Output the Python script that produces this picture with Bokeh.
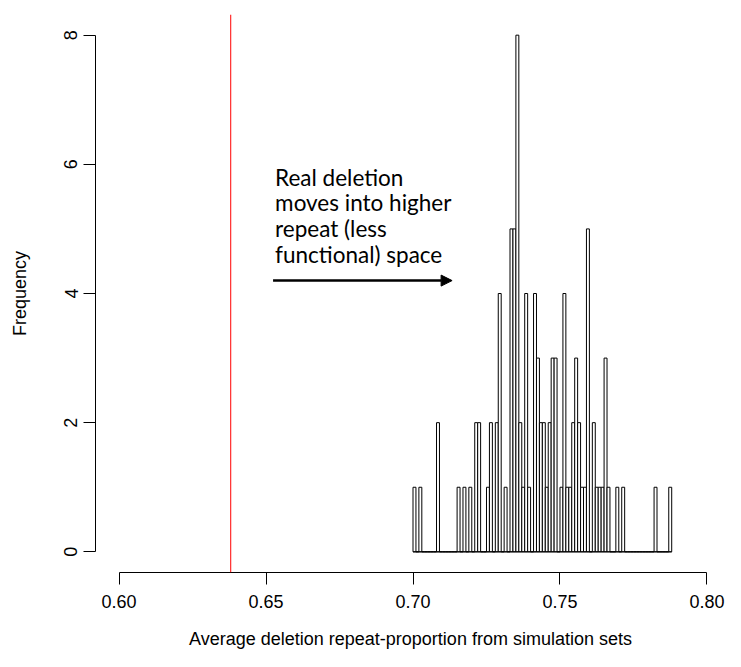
import numpy as np
from bokeh.plotting import figure
from bokeh.models import (Span, Arrow, NormalHead, ColumnDataSource, FixedTicker,
                          Range1d, NumeralTickFormatter)
from bokeh.embed import file_html
from bokeh.resources import INLINE
from bokeh.core.properties import value

# ---------------- data ----------------
bin_start = 0.700
bin_width = 0.001
counts = [1, 0, 1, 0, 0, 0, 0, 0, 2, 0,
          0, 0, 0, 0, 0, 1, 0, 1, 0, 1,
          0, 2, 2, 0, 0, 1, 2, 0, 2, 4,
          0, 1, 0, 5, 5, 8, 2, 1, 4, 1,
          0, 4, 3, 2, 2, 1, 2, 3, 3, 0,
          1, 4, 1, 1, 2, 3, 2, 1, 1, 5,
          0, 2, 1, 1, 1, 3, 1, 0, 0, 1,
          0, 1, 0, 0, 0, 0, 0, 0, 0, 0,
          0, 0, 1, 0, 0, 0, 0, 1]
real_deletion = 0.638
x_ticks = [0.60, 0.65, 0.70, 0.75, 0.80]
y_ticks = [0, 2, 4, 6, 8]
x_label = "Average deletion repeat-proportion from simulation sets"
y_label = "Frequency"
note_lines = ["Real deletion", "moves into higher", "repeat (less", "functional) space"]
note_x = 0.6531
note_y = [5.80, 5.41, 5.01, 4.61]
arrow_x = (0.6524, 0.7133)
arrow_y = 4.2

# ---------------- derived ----------------
lefts = [round(bin_start + i * bin_width, 3) for i in range(len(counts))]
rights = [round(l + bin_width, 3) for l in lefts]
src = ColumnDataSource(dict(left=lefts, right=rights, top=counts, bottom=[0] * len(counts)))

x0, x1 = x_ticks[0], x_ticks[-1]
xpad = 0.04 * (x1 - x0)
y0, y1 = y_ticks[0], y_ticks[-1]
ypad = 0.04 * (y1 - y0)

W, H = 725, 651
BL, BT, BB = 95, 14, 79
frame_w = W - BL
x_start = x0 - xpad
x_end = x_start + (x1 + xpad - x_start) * frame_w / 635.0

p = figure(width=W, height=H,
           x_range=Range1d(x_start, x_end),
           y_range=Range1d(y0 - ypad, y1 + ypad),
           output_backend="svg", toolbar_location=None,
           min_border_left=BL, min_border_right=0,
           min_border_top=BT, min_border_bottom=BB)
p.background_fill_color = "white"
p.border_fill_color = "white"
p.outline_line_color = None
p.xgrid.visible = False
p.ygrid.visible = False

# histogram
p.quad(left="left", right="right", top="top", bottom="bottom", source=src,
       fill_color="white", line_color="black", line_width=1)
p.segment(x0=[lefts[0]], x1=[rights[-1]], y0=[0], y1=[0], line_color="black", line_width=1)

# red vertical line
p.add_layout(Span(location=real_deletion, dimension="height", line_color="#ff0000", line_width=1))

# annotation
p.text(x=[note_x] * len(note_lines), y=note_y, text=note_lines,
       text_font=value("Lato"), text_font_size="22.5px", text_baseline="middle",
       text_align="left", text_color="black")
p.add_layout(Arrow(x_start=arrow_x[0], y_start=arrow_y, x_end=arrow_x[1], y_end=arrow_y,
                   line_width=2.5, line_color="black",
                   end=NormalHead(size=11, fill_color="black", line_color="black")))

# axes
for ax in (p.xaxis[0], p.yaxis[0]):
    ax.axis_line_color = "black"
    ax.axis_line_width = 1
    ax.major_tick_line_color = "black"
    ax.major_tick_out = 12
    ax.major_tick_in = 0
    ax.minor_tick_line_color = None
    ax.major_label_text_font = "Liberation Sans"
    ax.major_label_text_font_size = "18px"
    ax.major_label_text_color = "black"
    ax.axis_label_text_font = "Liberation Sans"
    ax.axis_label_text_font_size = "18px"
    ax.axis_label_text_font_style = "normal"
    ax.axis_label_text_color = "black"

xa = p.xaxis[0]
xa.ticker = FixedTicker(ticks=x_ticks)
xa.formatter = NumeralTickFormatter(format="0.00")
xa.bounds = (x0, x1)
xa.major_label_standoff = 10
xa.axis_label = x_label
xa.axis_label_standoff = 18

ya = p.yaxis[0]
ya.ticker = FixedTicker(ticks=y_ticks)
ya.bounds = (y0, y1)
ya.major_label_orientation = "vertical"
ya.major_label_standoff = 6
ya.axis_label = y_label
ya.axis_label_standoff = 32

open("out.html", "w").write(file_html(p, INLINE))
